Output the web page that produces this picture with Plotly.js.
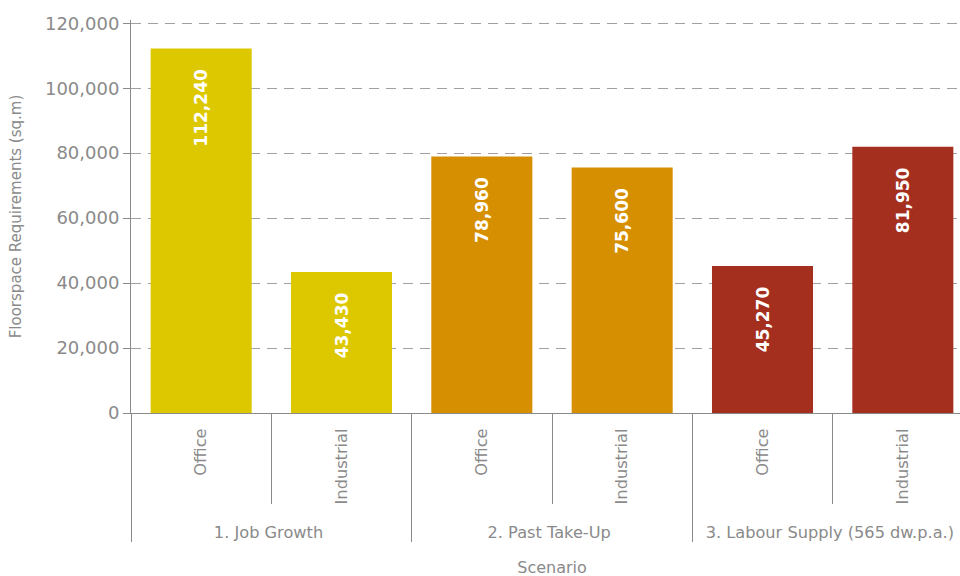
<!DOCTYPE html>
<html>
<head>
<meta charset="utf-8">
<script src="https://cdn.plot.ly/plotly-3.0.1.min.js"></script>
<style>html,body{margin:0;padding:0;overflow:hidden;background:#fff;}#chart{width:975px;height:576px;}</style>
</head>
<body>
<div id="chart"></div>
<script>
var scenarios = ["1. Job Growth", "1. Job Growth", "2. Past Take-Up", "2. Past Take-Up", "3. Labour Supply (565 dw.p.a.)", "3. Labour Supply (565 dw.p.a.)"];
var types = ["Office", "Industrial", "Office", "Industrial", "Office", "Industrial"];
var values = [112240, 43430, 78960, 75600, 45270, 81950];
var colors = ["#DDC800", "#DDC800", "#D68F00", "#D68F00", "#A52F1F", "#A52F1F"];
var yTicks = [0, 20000, 40000, 60000, 80000, 100000, 120000];

var grey = "#8a8a8a";
var trace = {
  type: "bar",
  x: [scenarios, types.map(function (t) { return "\u00a0\u00a0" + t; })],
  y: values,
  marker: {color: colors, line: {width: 0}},
  texttemplate: "%{y:,}\u00a0\u00a0\u00a0",
  textposition: "inside",
  insidetextanchor: "end",
  textangle: -90,
  textfont: {family: "DejaVu Sans", size: 17, color: "#ffffff", weight: "bold"},
  hoverinfo: "none"
};

var layout = {
  width: 975, height: 576,
  margin: {l: 131, r: 2, t: 20, b: 163},
  paper_bgcolor: "#fff", plot_bgcolor: "#fff",
  showlegend: false,
  bargap: 0.28,
  font: {family: "DejaVu Sans", color: grey},
  xaxis: {
    type: "multicategory",
    tickangle: -90,
    tickfont: {size: 16.2, color: grey},
    ticklabelstandoff: 8,
    showline: true, linecolor: grey, linewidth: 1,
    ticks: "outside", ticklen: 90, tickcolor: grey,
    showdividers: true, dividercolor: grey, dividerwidth: 1,
    title: {text: "Scenario", font: {size: 16, color: grey}, standoff: 20}
  },
  yaxis: {
    range: [0, 121000],
    tickvals: yTicks,
    tickformat: ",",
    tickfont: {size: 18, color: grey},
    showline: true, linecolor: grey, linewidth: 1,
    ticks: "outside", ticklen: 7, tickcolor: grey,
    showgrid: true, gridcolor: "#a0a0a0", gridwidth: 1, griddash: "10px,7px",
    zeroline: false,
    title: {text: "Floorspace Requirements (sq.m)", font: {size: 15, color: grey}, standoff: 19}
  }
};

Plotly.newPlot("chart", [trace], layout, {displayModeBar: false, staticPlot: true});
</script>
</body>
</html>
